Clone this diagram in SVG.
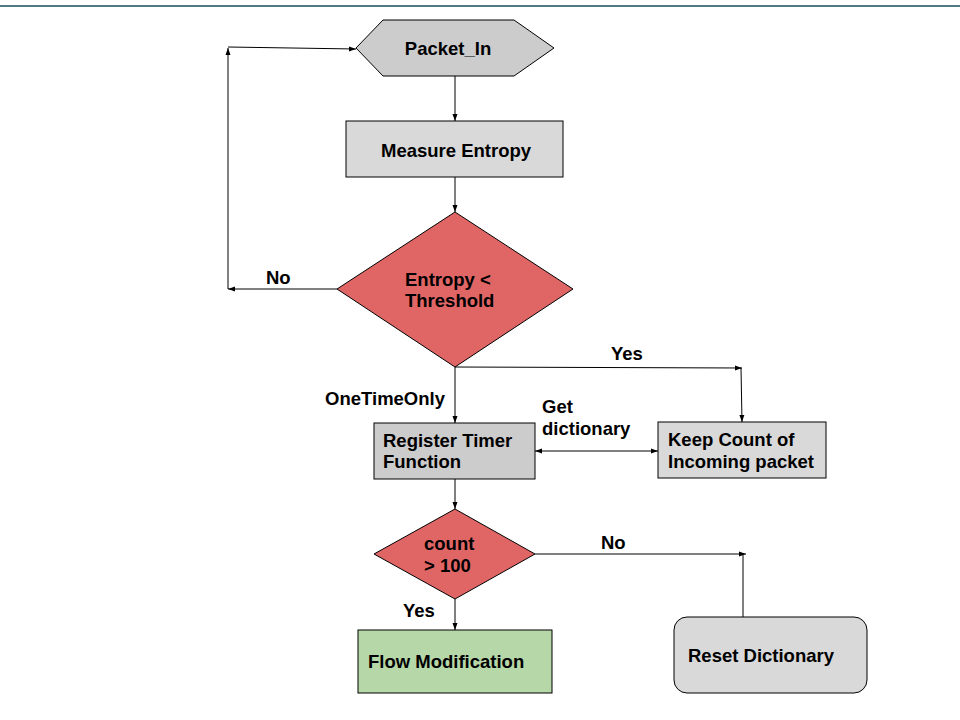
<svg xmlns="http://www.w3.org/2000/svg" width="960" height="720" viewBox="0 0 960 720">
<style>
  .n { stroke: #000; stroke-width: 1; }
  .g1 { fill: #cccccc; }
  .g2 { fill: #d9d9d9; }
  .red { fill: #e06666; }
  .grn { fill: #b6d7a8; }
  .t { font-family: "Liberation Sans", Arial, sans-serif; font-weight: bold; font-size: 18.5px; fill: #000; }
  .c { fill: none; stroke: #000; stroke-width: 1; }
</style>
<defs>
  <marker id="ah" markerUnits="userSpaceOnUse" markerWidth="8" markerHeight="8" viewBox="0 0 8 8" refX="7" refY="4" orient="auto-start-reverse">
    <path d="M0,1.5 L7,4 L0,6.5 Z" fill="#000"/>
  </marker>
</defs>
<rect x="0" y="0" width="960" height="720" fill="#ffffff"/>
<line x1="0" y1="6" x2="960" y2="6" stroke="#174e5c" stroke-width="1.5"/>

<g id="connectors">
  <line class="c" x1="455" y1="76" x2="455" y2="121" marker-end="url(#ah)"/>
  <line class="c" x1="455" y1="177" x2="455" y2="212" marker-end="url(#ah)"/>
  <line class="c" x1="337" y1="289" x2="228" y2="289" marker-end="url(#ah)"/>
  <line class="c" x1="228" y1="289" x2="228" y2="48" marker-end="url(#ah)"/>
  <line class="c" x1="228" y1="47" x2="356" y2="49" marker-end="url(#ah)"/>
  <line class="c" x1="455" y1="367" x2="742" y2="368" marker-end="url(#ah)"/>
  <line class="c" x1="741" y1="368" x2="742" y2="422" marker-end="url(#ah)"/>
  <line class="c" x1="455" y1="367" x2="455" y2="423" marker-end="url(#ah)"/>
  <line class="c" x1="658" y1="451" x2="535" y2="451" marker-start="url(#ah)" marker-end="url(#ah)"/>
  <line class="c" x1="455" y1="479" x2="455" y2="509" marker-end="url(#ah)"/>
  <line class="c" x1="535" y1="554" x2="746" y2="554" marker-end="url(#ah)"/>
  <line class="c" x1="743" y1="617" x2="743" y2="554"/>
  <line class="c" x1="455" y1="599" x2="455" y2="630" marker-end="url(#ah)"/>
  <text class="t" x="266" y="284">No</text>
  <text class="t" x="611" y="360">Yes</text>
  <text class="t" x="445" y="405" text-anchor="end">OneTimeOnly</text>
  <text class="t" x="542" y="413">Get</text>
  <text class="t" x="542" y="435">dictionary</text>
  <text class="t" x="601" y="549">No</text>
  <text class="t" x="403" y="617">Yes</text>
</g>

<g id="packet_in">
  <polygon class="n g1" points="356,48 383,20 514,20 554,48 514,76 383,76"/>
  <text class="t" x="448" y="55" text-anchor="middle">Packet_In</text>
</g>

<g id="measure_entropy">
  <rect class="n g2" x="346" y="121" width="217" height="56"/>
  <text class="t" x="381" y="157">Measure Entropy</text>
</g>

<g id="entropy_threshold">
  <polygon class="n red" points="455,212 573,289 455,367 337,289"/>
  <text class="t" x="405" y="286">Entropy &lt;</text>
  <text class="t" x="405" y="307">Threshold</text>
</g>

<g id="register_timer">
  <rect class="n g1" x="374" y="423" width="161" height="56"/>
  <text class="t" x="383" y="447">Register Timer</text>
  <text class="t" x="383" y="468">Function</text>
</g>

<g id="keep_count">
  <rect class="n g2" x="658" y="422" width="168" height="56"/>
  <text class="t" x="668" y="446">Keep Count of</text>
  <text class="t" x="668" y="468">Incoming packet</text>
</g>

<g id="count_100">
  <polygon class="n red" points="455,509 535,554 455,599 374,554"/>
  <text class="t" x="424" y="550">count</text>
  <text class="t" x="424" y="572">&gt; 100</text>
</g>

<g id="flow_modification">
  <rect class="n grn" x="358" y="630" width="194" height="63"/>
  <text class="t" x="368" y="668">Flow Modification</text>
</g>

<g id="reset_dictionary">
  <rect class="n g2" x="674" y="617" width="193" height="76" rx="13" ry="13"/>
  <text class="t" x="688" y="662">Reset Dictionary</text>
</g>
</svg>
